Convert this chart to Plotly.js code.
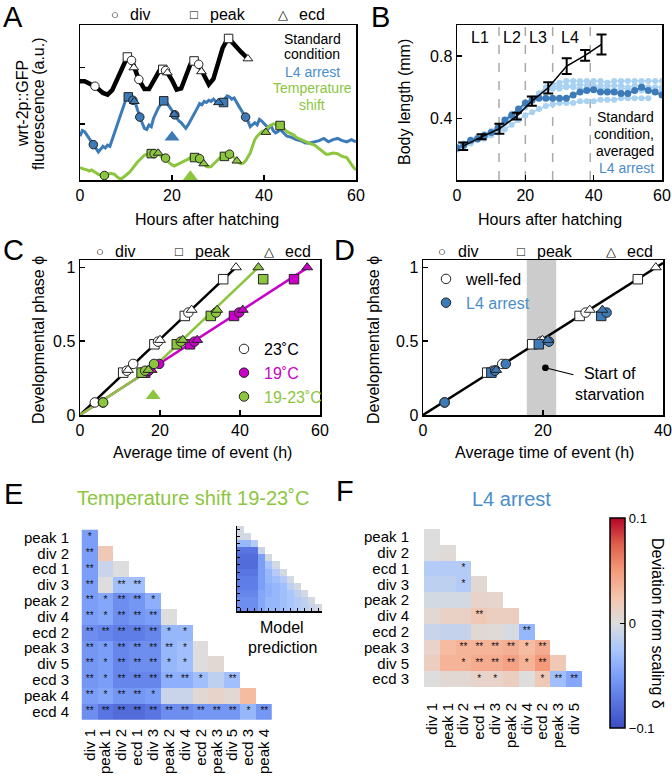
<!DOCTYPE html>
<html><head><meta charset="utf-8">
<script src="https://cdn.plot.ly/plotly-3.0.1.min.js"></script>
<style>html,body{margin:0;padding:0;background:#fff}#chart{width:672px;height:784px}</style>
</head><body><div id="chart"></div>
<script>
// ---------------- DATA ----------------
// Event naming
const eventTypes = ['div','peak','div','ecd','div','peak','div','ecd','peak','div','ecd','peak','ecd'];
const eventPhase = [0.085,0.287,0.300,0.305,0.346,0.479,0.497,0.508,0.671,0.694,0.712,0.920,1.000];

// Panel A: wrt-2p::GFP traces (a.u.)
const aStdT = [0,1,2,3,4,5,6,7,8,9,10,10.5,11,11.5,12,12.5,13,14,15,16,17,17.5,18,18.5,19,20,21,22,23,24,24.5,25,25.5,26,26.5,27,28,29,30,31,32,32.5,33,34,35,36,36.5];
const aStdV = [1.76,1.76,1.72,1.68,1.62,1.55,1.52,1.60,1.78,1.98,2.14,2.19,2.16,2.08,1.95,1.85,1.76,1.62,1.62,1.76,1.93,1.98,2.00,1.96,1.91,1.78,1.61,1.63,1.85,2.06,2.11,2.12,2.10,2.02,1.93,1.82,1.70,1.80,2.05,2.35,2.50,2.52,2.46,2.36,2.28,2.20,2.16];
const aArrT = [0,0.5,1,1.5,2,2.5,3,3.5,4,4.5,5,5.5,6,6.5,7,7.5,8,8.5,9,9.5,10,10.5,11,11.5,12,12.5,13,13.5,14,14.5,15,15.5,16,16.5,17,17.5,18,18.5,19,19.5,20,20.5,21,21.5,22,22.5,23,23.5,24,24.5,25,25.5,26,26.5,27,27.5,28,28.5,29,29.5,30,30.5,31,31.5,32,32.5,33,33.5,34,34.5,35,35.5,36,36.5,37,37.5,38,38.5,39,39.5,40,40.5,41,41.5,42,42.5,43,43.5,44,44.5,45,46,47,48,49,50,51,52,53,54,55,56,57,58,59,60];
const aArrV = [0.78,0.88,0.86,0.80,0.72,0.66,0.62,0.55,0.50,0.55,0.60,0.57,0.62,0.60,0.72,0.85,0.95,1.08,1.22,1.35,1.44,1.48,1.45,1.42,1.38,1.25,1.12,1.02,0.92,0.90,0.98,0.95,1.10,1.20,1.28,1.34,1.40,1.42,1.36,1.30,1.22,1.17,1.12,1.05,1.02,0.96,0.92,0.98,1.05,1.12,1.20,1.28,1.36,1.34,1.40,1.38,1.42,1.40,1.44,1.40,1.38,1.40,1.40,1.45,1.50,1.48,1.44,1.46,1.40,1.32,1.25,1.18,1.12,1.05,0.95,0.98,1.02,0.98,1.08,1.05,1.00,0.96,0.92,0.98,0.88,0.84,0.86,0.90,0.86,0.82,0.78,0.76,0.72,0.70,0.66,0.66,0.68,0.70,0.74,0.68,0.72,0.74,0.70,0.68,0.72,0.68];
const aTsT = [0,0.5,1,1.5,2,2.5,3,3.5,4,4.5,5,5.5,6,6.5,7,7.5,8,8.5,9,9.5,10,10.5,11,11.5,12,12.5,13,13.5,14,14.5,15,15.5,16,16.5,17,17.5,18,18.5,19,19.5,20,20.5,21,21.5,22,22.5,23,23.5,24,24.5,25,25.5,26,26.5,27,27.5,28,28.5,29,29.5,30,30.5,31,31.5,32,32.5,33,33.5,34,34.5,35,35.5,36,36.5,37,37.5,38,38.5,39,39.5,40,40.5,41,41.5,42,42.5,43,43.5,44,44.5,45,45.5,46,46.5,47,47.5,48,48.5,49,49.5,50,51,52,53,53.5,54,55,56,57,58,58.5,59,59.5,60];
const aTsV = [0.22,0.20,0.19,0.18,0.16,0.18,0.15,0.12,0.10,0.09,0.08,0.08,0.10,0.12,0.11,0.10,0.06,0.03,0.02,0.05,0.08,0.12,0.16,0.22,0.28,0.32,0.36,0.40,0.44,0.46,0.47,0.46,0.47,0.48,0.47,0.44,0.40,0.39,0.34,0.30,0.27,0.25,0.27,0.29,0.31,0.32,0.34,0.37,0.40,0.41,0.42,0.40,0.36,0.31,0.27,0.24,0.23,0.24,0.28,0.32,0.36,0.40,0.42,0.44,0.46,0.47,0.44,0.40,0.35,0.31,0.29,0.30,0.34,0.40,0.48,0.60,0.72,0.78,0.82,0.86,0.88,0.90,0.95,0.98,1.00,0.99,0.97,0.97,0.94,0.90,0.86,0.84,0.82,0.80,0.76,0.74,0.72,0.70,0.68,0.66,0.65,0.62,0.56,0.50,0.46,0.46,0.48,0.47,0.42,0.40,0.35,0.28,0.22,0.18];
// Panel A: events on the traces
const aStdEvT = [3.25,10.3,11.2,11.7,12.8,18.0,18.6,19.0,24.8,25.8,26.4,32.3,36.5];
const aStdEvV = [1.67,2.19,2.13,2.00,1.79,1.97,1.95,1.91,2.12,2.06,1.93,2.52,2.16];
const aArrEvT = [2.9,10.5,11.5,11.8,13.0,18.2,20.6,20.5,31.2,36.0,30.1];
const aArrEvV = [0.63,1.48,1.42,1.40,1.12,1.41,1.16,1.17,1.38,1.12,1.38];
const aTsEvT = [5.3,15.5,16.1,17.0,18.6,24.9,26.0,26.9,31.4,32.5,34.1,43.5,40.4];
const aTsEvV = [0.08,0.47,0.47,0.48,0.39,0.40,0.38,0.29,0.42,0.46,0.34,0.97,0.85];
const aStarveT = 20, aStarveV = 0.76;     // start of starvation (L4 arrest)
const aShiftT = 24, aShiftV = 0.06;       // temperature shift

// Panel B: body length (mm)
const bMeanT = [1.8,7.2,12.4,17.5,21.9,26.7,32.1,37.5,42.3];
const bMeanV = [0.222,0.282,0.334,0.415,0.511,0.597,0.736,0.805,0.875];
const bMeanErr = [0.024,0.016,0.032,0.021,0.030,0.036,0.050,0.035,0.064];
const bIndT = [0,2,4,6,8,10,12,14,16,18,20,22,24,26,28,30,32,34,36,38,40,42,44,46,48,50,52,54,56,58,60];
const bInd1 = [0.20,0.23,0.25,0.27,0.29,0.31,0.34,0.38,0.42,0.45,0.48,0.52,0.56,0.60,0.62,0.63,0.64,0.64,0.64,0.64,0.64,0.64,0.63,0.64,0.64,0.64,0.64,0.64,0.64,0.64,0.64];
const bInd2 = [0.21,0.23,0.25,0.27,0.29,0.31,0.33,0.37,0.41,0.44,0.47,0.51,0.55,0.58,0.60,0.61,0.61,0.61,0.62,0.61,0.61,0.61,0.61,0.61,0.61,0.60,0.61,0.61,0.60,0.60,0.60];
const bInd3 = [0.20,0.22,0.24,0.26,0.27,0.29,0.31,0.33,0.36,0.39,0.42,0.44,0.46,0.48,0.49,0.50,0.50,0.50,0.51,0.51,0.51,0.52,0.52,0.52,0.53,0.53,0.53,0.53,0.53];
const bInd4 = [0.22,0.24,0.26,0.28,0.30,0.32,0.35,0.39,0.43,0.46,0.49,0.53,0.56,0.58,0.59,0.59,0.60,0.60,0.59,0.59,0.60,0.59,0.59,0.58,0.59,0.59,0.58,0.58,0.58,0.58,0.58];
const bArrest = [0.21,0.23,0.26,0.27,0.29,0.31,0.34,0.39,0.42,0.46,0.50,0.52,0.53,0.53,0.53,0.53,0.53,0.55,0.57,0.58,0.585,0.57,0.57,0.57,0.56,0.56,0.58,0.60,0.58,0.57,0.55];
const moltT = [12.3,20,28,39];
const stageNames = ['L1','L2','L3','L4'];
const stageLabelT = [6.8,16,23.8,33];

// Panel C: phase vs average time of event
const c23T   = [3.7,10.8,11.7,12.0,13.3,18.6,19.5,20.0,26.2,27.1,27.9,35.8,39.0];
const c19T   = [5.7,16.3,17.2,17.9,19.8,27.5,28.6,29.3,38.5,39.8,40.7,53.5,56.8];
const c1923T = [5.8,15.4,16.3,17.1,18.5,24.2,25.2,25.7,32.7,34.0,34.3,45.8,44.6];
const c23FitT = [0,39], c23FitPhi = [0,1];
const c19FitT = [0,57], c19FitPhi = [0,1];
const c1923FitT = [0,18.5,44.6], c1923FitPhi = [0,0.325,1];
const cShiftT = 18.3, cShiftPhi = 0.13;

// Panel D
const dFedT    = [3.6,10.7,11.6,12.0,13.2,18.2,19.6,19.9,26.1,27.1,27.8,35.8,38.8];
const dArrestT = [3.6,11.4,12.0,12.2,13.8,19.3,21.0,20.8,29.7,30.6,29.9];
const dFitT = [0,40], dFitPhi = [0,1.03];
const dStarveWindow = [17.3,22.2];
const dStarveT = 20.4, dStarvePhi = 0.32;

// Panel E: temperature shift deviation matrix
const eRows = ['peak 1','div 2','ecd 1','div 3','peak 2','div 4','ecd 2','peak 3','div 5','ecd 3','peak 4','ecd 4'];
const eCols = ['div 1','peak 1','div 2','ecd 1','div 3','peak 2','div 4','ecd 2','peak 3','div 5','ecd 3','peak 4'];
const eVals = [
 [-0.05],
 [-0.05,0.02],
 [-0.05,-0.01,0.0],
 [-0.05,0.0,-0.03,-0.03],
 [-0.05,-0.045,-0.06,-0.055,-0.04],
 [-0.05,-0.045,-0.06,-0.055,-0.05,0.0],
 [-0.06,-0.065,-0.07,-0.07,-0.065,-0.035,-0.035],
 [-0.055,-0.05,-0.065,-0.06,-0.06,-0.035,-0.03,0.0],
 [-0.055,-0.05,-0.065,-0.06,-0.06,-0.035,-0.03,0.0,0.005],
 [-0.055,-0.05,-0.065,-0.065,-0.065,-0.04,-0.04,-0.03,-0.015,-0.03],
 [-0.05,-0.045,-0.055,-0.055,-0.05,-0.01,-0.01,0.005,0.01,0.005,0.03],
 [-0.06,-0.075,-0.08,-0.08,-0.075,-0.06,-0.06,-0.055,-0.055,-0.055,-0.035,-0.055]
];
const eStars = [
 ['*'],
 ['**',''],
 ['**','',''],
 ['**','','**','**'],
 ['**','*','**','**','*'],
 ['**','*','**','**','**',''],
 ['**','**','**','**','**','*','*'],
 ['**','*','**','**','**','**','*',''],
 ['**','*','**','**','**','*','*','',''],
 ['**','*','**','**','**','**','**','*','','**'],
 ['**','*','**','**','*','','','','','',''],
 ['**','**','**','**','**','**','**','**','**','**','*','**']
];
const eModel = [
 [-0.005],
 [-0.005,-0.005],
 [-0.035,-0.035,-0.02],
 [-0.075,-0.075,-0.075,-0.01],
 [-0.08,-0.08,-0.08,-0.05,-0.005],
 [-0.08,-0.08,-0.08,-0.05,-0.025,-0.005],
 [-0.075,-0.075,-0.075,-0.05,-0.035,-0.02,-0.005],
 [-0.07,-0.07,-0.07,-0.05,-0.035,-0.03,-0.02,-0.005],
 [-0.07,-0.07,-0.07,-0.05,-0.04,-0.035,-0.03,-0.015,-0.005],
 [-0.065,-0.065,-0.065,-0.045,-0.04,-0.035,-0.03,-0.025,-0.015,-0.005],
 [-0.06,-0.06,-0.06,-0.045,-0.035,-0.035,-0.03,-0.025,-0.02,-0.015,-0.005],
 [-0.06,-0.06,-0.06,-0.045,-0.035,-0.035,-0.03,-0.025,-0.02,-0.015,-0.01,-0.005]
];

// Panel F: L4 arrest deviation matrix
const fRows = ['peak 1','div 2','ecd 1','div 3','peak 2','div 4','ecd 2','peak 3','div 5','ecd 3'];
const fCols = ['div 1','peak 1','div 2','ecd 1','div 3','peak 2','div 4','ecd 2','peak 3','div 5'];
const fVals = [
 [0.0],
 [0.0,0.003],
 [-0.02,-0.02,-0.02],
 [-0.015,-0.015,-0.02,0.005],
 [-0.005,-0.005,-0.005,0.01,0.008],
 [0.005,0.012,0.012,0.02,0.015,0.015],
 [-0.01,-0.012,-0.012,0.005,0.003,-0.003,-0.035],
 [0.01,0.03,0.035,0.035,0.035,0.038,0.03,0.04],
 [0.015,0.035,0.035,0.04,0.04,0.045,0.035,0.05,0.02],
 [0.0,0.005,0.005,0.01,0.01,0.015,0.0,0.02,-0.03,-0.045]
];
const fStars = [
 [''],
 ['',''],
 ['','','*'],
 ['','','*',''],
 ['','','','',''],
 ['','','','**','',''],
 ['','','','','','','**'],
 ['','','**','**','**','**','*','**'],
 ['','','*','**','**','**','*','**',''],
 ['','','','*','*','','','*','**','**']
];
const cbTicks = [-0.1,0,0.1];
const cbTickText = ['\u22120.1','0','0.1'];

// ---------------- STYLE / HELPERS ----------------
const W = 672, H = 784;
const FONT = "'Liberation Sans', Arial, Helvetica, sans-serif";
const BLUE = '#3d7bb8', BLUE_TXT = '#4a8dcc', BLUE_LIGHT = '#a9d1f2', GREEN = '#8cc63f', MAGENTA = '#c800c8';
const SYM = {div:'circle', peak:'square', ecd:'triangle-up'};
const px = x => x / W, py = y => 1 - y / H;
const dX = (a,b) => [px(a), px(b)], dY = (t,b) => [py(b), py(t)];
const coolwarm = [[0,'#3b4cc0'],[0.125,'#5875e1'],[0.25,'#7b9ff9'],[0.375,'#aac7fd'],[0.5,'#dddddd'],[0.625,'#f5c4ac'],[0.75,'#f49a7b'],[0.875,'#de604d'],[1,'#b40426']];

const traces = [];
const add = t => { if (t.showlegend === undefined) t.showlegend = false; t.hoverinfo = 'skip'; traces.push(t); };
function events(t, v, types, fill, xa, ya, size, extra) {
  return Object.assign({type:'scatter', mode:'markers', x:t, y:v, xaxis:xa, yaxis:ya, cliponaxis:false,
    marker:{symbol:types.map(k => SYM[k]), size:size, color:fill, line:{color:'#222', width:1}}}, extra || {});
}
function tri(vals, n) {
  return vals.map(r => { const out = []; for (let j = 0; j < n; j++) out.push(j < r.length ? r[j] : null); return out; });
}
function starTrace(stars, rows, cols, xa, ya) {
  const x = [], y = [], t = [];
  stars.forEach((r,i) => r.forEach((s,j) => { if (s) { x.push(cols[j]); y.push(rows[i]); t.push(s); } }));
  return {type:'scatter', mode:'text', x, y, text:t, textfont:{size:10, color:'#111', family:FONT}, xaxis:xa, yaxis:ya, cliponaxis:false};
}

// ---------------- TRACES ----------------
// A
add({type:'scatter', mode:'lines', x:aStdT, y:aStdV, line:{color:'#000', width:4.5}, xaxis:'x', yaxis:'y'});
add({type:'scatter', mode:'lines', x:aArrT, y:aArrV, line:{color:BLUE, width:3}, xaxis:'x', yaxis:'y'});
add({type:'scatter', mode:'lines', x:aTsT, y:aTsV, line:{color:GREEN, width:3}, xaxis:'x', yaxis:'y'});
add(events(aStdEvT, aStdEvV, eventTypes, '#fff', 'x', 'y', 8.5));
add(events(aArrEvT, aArrEvV, eventTypes.slice(0, aArrEvT.length), BLUE, 'x', 'y', 8.5));
add(events(aTsEvT, aTsEvV, eventTypes, GREEN, 'x', 'y', 8.5));
add({type:'scatter', mode:'markers', x:[aStarveT], y:[aStarveV], marker:{symbol:'triangle-up', size:13, color:BLUE}, xaxis:'x', yaxis:'y', cliponaxis:false});
add({type:'scatter', mode:'markers', x:[aShiftT], y:[aShiftV], marker:{symbol:'triangle-up', size:13, color:GREEN}, xaxis:'x', yaxis:'y', cliponaxis:false});

// B
[bInd1, bInd2, bInd3, bInd4].forEach(v => add({type:'scatter', mode:'lines+markers', x:bIndT.slice(0, v.length), y:v,
  line:{color:BLUE_LIGHT, width:1.5}, marker:{color:BLUE_LIGHT, size:6}, xaxis:'x2', yaxis:'y2'}));
add({type:'scatter', mode:'lines+markers', x:bIndT, y:bArrest, line:{color:BLUE, width:2}, marker:{color:BLUE, size:7}, xaxis:'x2', yaxis:'y2'});
add({type:'scatter', mode:'lines', x:bMeanT, y:bMeanV, line:{color:'#000', width:1.5}, xaxis:'x2', yaxis:'y2',
  error_y:{type:'data', array:bMeanErr, visible:true, color:'#000', thickness:2, width:5}});

// C
add({type:'scatter', mode:'lines', x:c23FitT, y:c23FitPhi, line:{color:'#000', width:2.5}, xaxis:'x3', yaxis:'y3'});
add({type:'scatter', mode:'lines', x:c19FitT, y:c19FitPhi, line:{color:MAGENTA, width:2.5}, xaxis:'x3', yaxis:'y3'});
add({type:'scatter', mode:'lines', x:c1923FitT, y:c1923FitPhi, line:{color:GREEN, width:2.5}, xaxis:'x3', yaxis:'y3'});
add(events(c23T, eventPhase, eventTypes, '#fff', 'x3', 'y3', 9.5, {name:'23\u02DAC', showlegend:true, legend:'legend'}));
add(events(c19T, eventPhase, eventTypes, MAGENTA, 'x3', 'y3', 9.5, {name:'<span style="color:' + MAGENTA + '">19\u02DAC</span>', showlegend:true, legend:'legend'}));
add(events(c1923T, eventPhase, eventTypes, GREEN, 'x3', 'y3', 9.5, {name:'<span style="color:' + GREEN + '">19-23\u02DAC</span>', showlegend:true, legend:'legend'}));
add({type:'scatter', mode:'markers', x:[cShiftT], y:[cShiftPhi], marker:{symbol:'triangle-up', size:13, color:GREEN}, xaxis:'x3', yaxis:'y3', cliponaxis:false});

// D
add({type:'scatter', mode:'lines', x:dFitT, y:dFitPhi, line:{color:'#000', width:2.5}, xaxis:'x4', yaxis:'y4'});
add(events(dFedT, eventPhase, eventTypes, '#fff', 'x4', 'y4', 9.5, {name:'well-fed', showlegend:true, legend:'legend2'}));
add(events(dArrestT, eventPhase.slice(0, dArrestT.length), eventTypes.slice(0, dArrestT.length), BLUE, 'x4', 'y4', 9.5,
  {name:'<span style="color:' + BLUE_TXT + '">L4 arrest</span>', showlegend:true, legend:'legend2'}));

// E
const hmBase = {type:'heatmap', colorscale:coolwarm, zmin:-0.1, zmax:0.1, showscale:false, xgap:0, ygap:0, hoverongaps:false};
add(Object.assign({}, hmBase, {x:eCols, y:eRows, z:tri(eVals, eCols.length), xaxis:'x5', yaxis:'y5'}));
add(starTrace(eStars, eRows, eCols, 'x5', 'y5'));
add(Object.assign({}, hmBase, {x:eCols, y:eRows, z:tri(eModel, eCols.length), xaxis:'x6', yaxis:'y6'}));
// F
add(Object.assign({}, hmBase, {x:fCols, y:fRows, z:tri(fVals, fCols.length), xaxis:'x7', yaxis:'y7', showscale:true,
  colorbar:{x:px(610), xanchor:'left', xref:'paper', y:py(623), yanchor:'middle', yref:'paper', len:210/H, lenmode:'fraction',
    thickness:15, thicknessmode:'pixels', xpad:0, ypad:0, outlinewidth:1.5, outlinecolor:'#000',
    tickmode:'array', tickvals:cbTicks, ticktext:cbTickText, ticks:'inside', ticklen:5, tickcolor:'#000',
    tickfont:{size:13, family:FONT, color:'#000'}}}));
add(starTrace(fStars, fRows, fCols, 'x7', 'y7'));

// ---------------- LAYOUT ----------------
function frame(o) {
  return Object.assign({showline:true, mirror:true, linecolor:'#000', linewidth:1.5, ticks:'inside', ticklen:5, tickwidth:1.5,
    tickcolor:'#000', showgrid:false, zeroline:false, fixedrange:true, tickfont:{size:16, family:FONT, color:'#000'}}, o);
}
function hmAxis(o) {
  return Object.assign({type:'category', showline:false, showgrid:false, zeroline:false, ticks:'', fixedrange:true,
    tickfont:{size:15, family:FONT, color:'#000'}}, o);
}
const layout = {
  width:W, height:H, margin:{l:0, r:0, t:0, b:0}, paper_bgcolor:'#fff', plot_bgcolor:'rgba(0,0,0,0)',
  font:{family:FONT, color:'#000', size:16}, showlegend:true, hovermode:false,
  xaxis:  frame({domain:dX(80,356), range:[0,60], tickmode:'array', tickvals:[0,20,40,60], anchor:'y'}),
  yaxis:  frame({domain:dY(25,180), range:[0,2.76], tickmode:'array', tickvals:[1,2], showticklabels:false, anchor:'x'}),
  xaxis2: frame({domain:dX(457,662), range:[0,60], tickmode:'array', tickvals:[0,20,40,60], anchor:'y2'}),
  yaxis2: frame({domain:dY(25,180), range:[0.005,1.0], tickmode:'array', tickvals:[0.4,0.8], anchor:'x2'}),
  xaxis3: frame({domain:dX(80,320), range:[0,60], tickmode:'array', tickvals:[0,20,40,60], anchor:'y3'}),
  yaxis3: frame({domain:dY(260,415), range:[0,1.05], tickmode:'array', tickvals:[0,0.5,1], ticktext:['0','0.5','1'], anchor:'x3'}),
  xaxis4: frame({domain:dX(423,663), range:[0,40], tickmode:'array', tickvals:[0,20,40], anchor:'y4'}),
  yaxis4: frame({domain:dY(260,415), range:[0,1.05], tickmode:'array', tickvals:[0,0.5,1], ticktext:['0','0.5','1'], anchor:'x4'}),
  xaxis5: hmAxis({domain:dX(80,274), anchor:'y5', categoryorder:'array', categoryarray:eCols, tickmode:'array', tickvals:eCols, ticktext:eCols, tickangle:-90, ticklabelstandoff:4}),
  yaxis5: hmAxis({domain:dY(528,721), anchor:'x5', categoryorder:'array', categoryarray:eRows, tickmode:'array', tickvals:eRows, ticktext:eRows, autorange:'reversed', ticklabelstandoff:10}),
  xaxis6: hmAxis({domain:dX(237,322), anchor:'y6', categoryorder:'array', categoryarray:eCols, showline:true, linecolor:'#000', linewidth:1.5, ticks:'inside', ticklen:3, tickcolor:'#000', showticklabels:false, tickmode:'array', tickvals:eCols}),
  yaxis6: hmAxis({domain:dY(526,611), anchor:'x6', categoryorder:'array', categoryarray:eRows, autorange:'reversed', showline:true, linecolor:'#000', linewidth:1.5, ticks:'inside', ticklen:3, tickcolor:'#000', showticklabels:false, tickmode:'array', tickvals:eRows}),
  xaxis7: hmAxis({domain:dX(424,582), anchor:'y7', categoryorder:'array', categoryarray:fCols, tickmode:'array', tickvals:fCols, ticktext:fCols, tickangle:-90, ticklabelstandoff:12}),
  yaxis7: hmAxis({domain:dY(529,687), anchor:'x7', categoryorder:'array', categoryarray:fRows, tickmode:'array', tickvals:fRows, ticktext:fRows, autorange:'reversed', ticklabelstandoff:14}),
  legend:  {x:px(224), xanchor:'left', y:py(373), yanchor:'middle', bgcolor:'rgba(0,0,0,0)', font:{size:16, family:FONT, color:'#000'}, itemsizing:'trace', tracegroupgap:0, traceorder:'normal'},
  legend2: {x:px(426), xanchor:'left', y:py(291), yanchor:'middle', bgcolor:'rgba(0,0,0,0)', font:{size:16, family:FONT, color:'#000'}, itemsizing:'trace', tracegroupgap:0, traceorder:'normal'},
  shapes: [],
  annotations: []
};
moltT.forEach(t => layout.shapes.push({type:'line', xref:'x2', yref:'y2 domain', x0:t, x1:t, y0:0, y1:1, layer:'below', line:{color:'#aaaaaa', width:1.5, dash:'dash'}}));
layout.shapes.push({type:'rect', xref:'x4', yref:'y4 domain', x0:dStarveWindow[0], x1:dStarveWindow[1], y0:0, y1:1, layer:'below', fillcolor:'#cccccc', line:{width:0}});

const ann = layout.annotations;
function T(text, x, y, o) {
  o = o || {};
  const a = {text, x:px(x), y:py(y), xref:'paper', yref:'paper', showarrow:false, xanchor:o.xanchor || 'center', yanchor:o.yanchor || 'middle',
    font:{size:o.size || 16, color:o.color || '#000', family:FONT}};
  if (o.angle !== undefined) a.textangle = o.angle;
  if (o.borderpad !== undefined) a.borderpad = o.borderpad;
  ann.push(a);
}
// panel letters
[['A',13,0],['B',380,0],['C',13,233],['D',345,233],['E',13,477],['F',345,474]].forEach(l => T(l[0], l[1], l[2], {size:29, yanchor:'top', borderpad:0}));
// symbol keys
function keyRow(y, pos) {
  const sy = ['\u25CB','\u25A1','\u25B3'], lb = ['div','peak','ecd'];
  pos.forEach((p,i) => { T(sy[i], p[0], y, {size:13}); T(lb[i], p[1], y, {xanchor:'left'}); });
}
keyRow(14, [[115,128],[194,208],[283,297]]);
keyRow(251, [[99.5,113],[179,193],[268.5,283]]);
keyRow(251, [[441.5,456],[521,535],[610.5,625]]);
// axis titles
T('wrt-2p::GFP', 22, 104, {angle:-90});
T('fluorescence (a.u.)', 38, 104, {angle:-90});
T('Hours after hatching', 207, 219);
T('Body length (mm)', 405, 102, {angle:-90});
T('Hours after hatching', 550, 219);
T('Developmental phase \u03D5', 38, 340, {angle:-90});
T('Average time of event (h)', 202, 453);
T('Developmental phase \u03D5', 373, 340, {angle:-90});
T('Average time of event (h)', 544, 453);
// panel A condition labels
T('Standard', 312, 38.5, {size:14});
T('condition', 312, 54, {size:14});
T('L4 arrest', 312, 71.5, {size:14, color:BLUE_TXT});
T('Temperature', 312, 88, {size:14, color:GREEN});
T('shift', 312, 105, {size:14, color:GREEN});
// panel B labels
stageNames.forEach((s,i) => ann.push({text:s, x:stageLabelT[i], y:py(38), xref:'x2', yref:'paper', showarrow:false, xanchor:'center', yanchor:'middle', font:{size:16, family:FONT, color:'#000'}}));
T('Standard', 656, 117, {size:14, xanchor:'right'});
T('condition,', 656, 134, {size:14, xanchor:'right'});
T('averaged', 656, 151, {size:14, xanchor:'right'});
T('L4 arrest', 656, 168, {size:14, xanchor:'right', color:BLUE_TXT});
// panel D starvation
ann.push({text:'Start of<br>starvation', x:dStarveT, y:dStarvePhi, xref:'x4', yref:'y4', showarrow:true, arrowhead:6, arrowsize:1.4, arrowwidth:1.2,
  arrowcolor:'#000', ax:64, ay:16, font:{size:16, family:FONT, color:'#000'}});
// heatmap titles
T('Temperature shift 19-23\u02DAC', 193.5, 498, {size:20, color:GREEN});
T('L4 arrest', 511, 499, {size:20, color:BLUE_TXT});
T('Model', 282, 627.5);
T('prediction', 282, 647);
T('Deviation from scaling \u03B4', 658, 623, {angle:90});

Plotly.newPlot('chart', traces, layout, {staticPlot:true, displayModeBar:false});
</script></body></html>
